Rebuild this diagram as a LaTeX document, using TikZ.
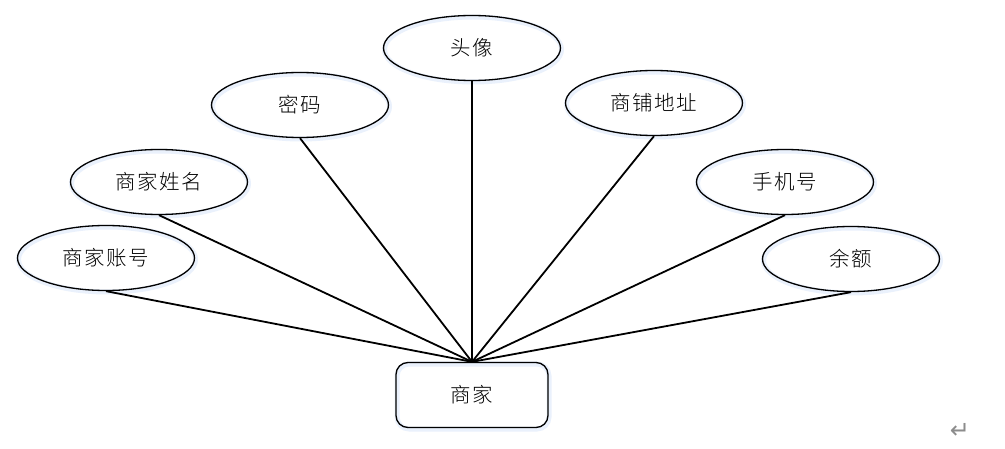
\documentclass[tikz,border=0pt]{standalone}
\usepackage{fontspec}
\usetikzlibrary{shapes.geometric}
\newfontfamily\cjk[LetterSpace=8]{Noto Sans CJK SC Light}
\newfontfamily\dejavu{DejaVu Sans}
\definecolor{glow}{RGB}{234,241,252}
\tikzset{
  attr/.style={ellipse, draw=black, line width=1.3pt, minimum width=177pt, minimum height=65pt,
    inner sep=0pt, font=\cjk\fontsize{20.5}{22}\selectfont,
    preaction={draw=glow, line width=5pt, transform canvas={shift={(1pt,-1.5pt)}}}},
  ent/.style={rectangle, rounded corners=12pt, draw=black, line width=1.3pt, minimum width=152pt, minimum height=65pt,
    inner sep=0pt, font=\cjk\fontsize{20.5}{22}\selectfont,
    preaction={draw=glow, line width=5pt, transform canvas={shift={(1pt,-1.5pt)}}}},
  link/.style={draw=black, line width=1.8pt}
}
\begin{document}
\begin{tikzpicture}[x=1pt,y=-1pt]
\useasboundingbox[fill=white] (0,0) rectangle (1005,449);
\node[attr] (zh) at (106,258) {商家账号};
\node[attr] (xm) at (159,182) {商家姓名};
\node[attr] (mm) at (300,105) {密码};
\node[attr] (tx) at (472,48) {头像};
\node[attr] (dz) at (654,103) {商铺地址};
\node[attr] (sj) at (785,182) {手机号};
\node[attr] (ye) at (851,259) {余额};
\node[ent] (sh) at (472,395) {商家};
\foreach \n in {zh,xm,mm,tx,dz,sj,ye}{
  \draw[link] (\n.south) -- (sh.north);
}
\node[font=\dejavu\fontsize{24}{26}\selectfont, text=gray!90] (ret) at (960,431) {↵};
\end{tikzpicture}
\end{document}
